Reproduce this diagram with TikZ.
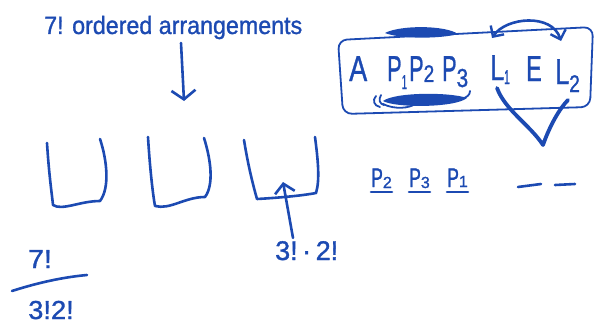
\documentclass[tikz,border=0pt]{standalone}
\usepackage{fontspec}
\usepackage{graphicx}
\setmainfont{Liberation Sans}[FakeBold=1.2]
\usetikzlibrary{arrows.meta}
\definecolor{ink}{RGB}{28,74,178}
\newcommand\narrow[2][0.7]{\scalebox{#1}[1]{#2}}
\begin{document}
\begin{tikzpicture}[x=1pt,y=-1pt,
  pen/.style={draw=ink, line width=2.6pt, line cap=round, line join=round},
  thinpen/.style={draw=ink, line width=1.8pt, line cap=round, line join=round},
  txt/.style={text=ink, inner sep=0pt, anchor=base west},
  big/.style={txt, font=\fontsize{36}{36}\selectfont},
  mid/.style={txt, font=\fontsize{26}{26}\selectfont},
  barb/.style={-{Straight Barb[length=9pt,width=24pt,line width=2.6pt]}}]
\useasboundingbox (0,0) rectangle (595,324);

% title and down arrow
\node[txt, font=\fontsize{25}{25}\selectfont] (title) at (44,34) {\narrow[0.93]{7! ordered arrangements}};
\coordinate (dA) at (181,43);
\coordinate (dB) at (184,101);
\draw[pen, barb] (dA) -- (dB);

% buckets
\draw[pen] (47,143) .. controls (49,175) and (52,195) .. (53,205)
  .. controls (62,211) and (80,201) .. (100,201)
  .. controls (110,188) and (107,160) .. (100,139);
\draw[pen] (148,137) .. controls (150,170) and (153,195) .. (155,206)
  .. controls (170,210) and (185,197) .. (205,197)
  .. controls (214,185) and (211,160) .. (204,138);
\draw[pen] (244,140) .. controls (248,165) and (253,185) .. (257,199)
  .. controls (275,198) and (300,196) .. (316,193)
  .. controls (320,180) and (318,160) .. (315,137);

% up arrow to third bucket
\node[txt, font=\fontsize{27}{27}\selectfont] (lbl) at (275,260) {3!\,·\,2!};
\coordinate (upTip) at (283,182);
\draw[pen, -{Straight Barb[length=9pt,width=20pt,line width=2.6pt]}] ([xshift=18pt,yshift=3pt]lbl.north west) -- (upTip);

% fraction at left
\node[mid, anchor=base] (num) at (40,268) {\narrow[1.1]{7!}};
\coordinate (fL) at (12,291);
\coordinate (fR) at (87,275);
\draw[pen] (fL) .. controls (40,282) and (65,277) .. (fR);
\node[mid, anchor=base] (den) at (51,319) {\narrow[1.05]{3!2!}};

% boxed word
\draw[thinpen, rounded corners=9pt] (338,40) -- (593,27) -- (590,107) -- (343,114) -- cycle;
\node[big] (A) at (349,81) {\narrow[0.75]{A}};
\node[big] (P1) at (387,81) {\narrow[0.6]{P}\raisebox{-8pt}{\fontsize{20}{20}\selectfont\narrow[0.5]{1}}};
\node[big] (P2) at (409,81) {\narrow[0.6]{P}\raisebox{-1pt}{\fontsize{24}{24}\selectfont\narrow[0.8]{2}}};
\node[big] (P3) at (442,81) {\narrow[0.6]{P}\raisebox{-6pt}{\fontsize{26}{26}\selectfont\narrow[0.8]{3}}};
\node[big] (L1) at (490,80) {\narrow[0.7]{L}\raisebox{-4pt}{\fontsize{20}{20}\selectfont\narrow[0.5]{1}}};
\node[big] (E) at (526,81) {\narrow[0.65]{E}};
\node[big] (L2) at (555,84) {\narrow[0.7]{L}\raisebox{-8pt}{\fontsize{24}{24}\selectfont\narrow[0.8]{2}}};

% scribbles
\fill[ink] (385,33) .. controls (400,25) and (445,25) .. (458,34)
  .. controls (440,39) and (400,39) .. cycle;
\fill[ink] (383,101) .. controls (395,92) and (450,92) .. (467,98)
  .. controls (455,108) and (395,108) .. cycle;
\draw[thinpen] (376,96) .. controls (372,100) and (374,106) .. (380,107);
\draw[thinpen] (381,95) .. controls (378,100) and (380,104) .. (384,105);
\draw[thinpen] (383,104) .. controls (395,110) and (410,108) .. (415,104);
\draw[thinpen] (462,99) .. controls (467,97) and (470,95) .. (470,91);

% swap arrow over L1 .. L2
\coordinate (sA) at (492,38);
\coordinate (sB) at (561,41);
\draw[pen, {Straight Barb[length=8pt,width=16pt,line width=2.4pt]}-{Straight Barb[length=8pt,width=16pt,line width=2.4pt]}]
  (sA) .. controls (506,17) and (552,13) .. (sB);

% big V
\coordinate (vL) at (497,88);
\coordinate (vB) at (543,145);
\coordinate (vR) at (568,100);
\draw[draw=ink, line width=3.8pt, line cap=round, line join=round]
  (vL) .. controls (505,110) and (530,125) .. (vB) .. controls (550,125) and (560,108) .. (vR);

% bottom right arrangement
\node[txt, font=\fontsize{27}{27}\selectfont] (q2) at (371,187) {\narrow[0.65]{P}\raisebox{-1pt}{\fontsize{16}{16}\selectfont 2}};
\node[txt, font=\fontsize{27}{27}\selectfont] (q3) at (409,187) {\narrow[0.65]{P}\raisebox{-1pt}{\fontsize{16}{16}\selectfont 3}};
\node[txt, font=\fontsize{27}{27}\selectfont] (q1) at (447,187) {\narrow[0.65]{P}\raisebox{0pt}{\fontsize{16}{16}\selectfont 1}};
\draw[pen] ([yshift=-5pt]q2.base west) -- ([yshift=-5pt]q2.base east);
\draw[pen] ([yshift=-5pt]q3.base west) -- ([yshift=-5pt]q3.base east);
\draw[pen] ([yshift=-5pt]q1.base west) -- ([yshift=-5pt]q1.base east);
\coordinate (d1a) at (518,187);
\coordinate (d1b) at (541,184);
\coordinate (d2a) at (555,185);
\coordinate (d2b) at (575,184);
\draw[pen] (d1a) -- (d1b);
\draw[pen] (d2a) -- (d2b);
\end{tikzpicture}
\end{document}
